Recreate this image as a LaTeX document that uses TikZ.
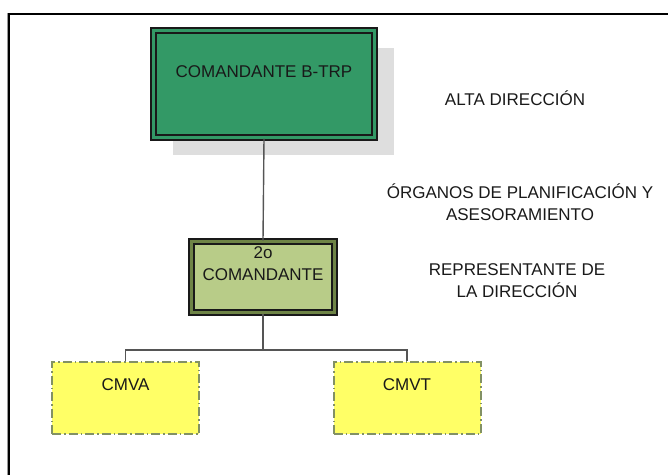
\documentclass[tikz,border=0pt]{standalone}
\usepackage{fontspec}
\setmainfont{Liberation Sans}
\usetikzlibrary{shadows}

\definecolor{jefegreen}{RGB}{51,153,102}
\definecolor{subgreen}{RGB}{184,204,136}
\definecolor{subdouble}{RGB}{110,132,70}
\definecolor{unityellow}{RGB}{255,255,102}
\definecolor{unitedge}{RGB}{130,145,100}
\definecolor{linkgray}{RGB}{85,85,85}

\begin{document}
\begin{tikzpicture}[x=1pt,y=-1pt,
  txt/.style={font=\fontsize{17}{22}\selectfont, text=black!90, align=center},
  box/.style={rectangle, inner sep=0pt, draw=black!90, line width=2pt, double distance=2.4pt},
  unit/.style={rectangle, inner sep=0pt, fill=unityellow, draw=unitedge, line width=2pt,
    dash pattern=on 9pt off 3pt on 1.5pt off 3pt, minimum width=147pt, minimum height=72pt},
  link/.style={draw=linkgray, line width=1.4pt}]

\useasboundingbox (0,0) rectangle (668,475);

% marco
\draw[black!40, line width=1pt] (7,475) -- (7,13);
\draw[line width=2pt] (668,14) -| (9,475);

\node[box, fill=jefegreen, double=jefegreen, minimum width=221pt, minimum height=107pt,
  drop shadow={shadow xshift=19pt, shadow yshift=-17pt, fill=black!13, opacity=1},
  label={[txt, yshift=12pt]center:COMANDANTE B-TRP}] (cmd) at (264,84) {};

\node[box, fill=subgreen, double=subdouble, minimum width=143pt, minimum height=71pt,
  label={[txt, yshift=13.5pt]center:2o\\COMANDANTE}] (sub) at (263,277) {};

\node[unit, label={[txt, yshift=13pt]center:CMVA}] (cmva) at (125.5,398) {};
\node[unit, label={[txt, yshift=13pt]center:CMVT}] (cmvt) at (407,398) {};

\coordinate (bus) at (263,350);

\draw[link] (cmd.south) -- (sub.north);
\draw[link] (sub.south) -- (bus);
\draw[link] (cmva.north) |- (bus) -| (cmvt.north);

\node[txt] (alta) at (515,98) {ALTA DIRECCIÓN};
\node[txt] (organos) at (520,202) {ÓRGANOS DE PLANIFICACIÓN Y\\ASESORAMIENTO};
\node[txt] (repre) at (517,281) {REPRESENTANTE DE\\LA DIRECCIÓN};

\end{tikzpicture}
\end{document}
